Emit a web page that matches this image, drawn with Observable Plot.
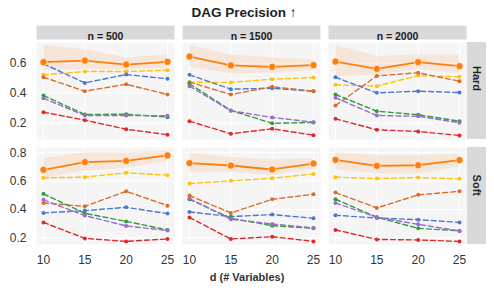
<!DOCTYPE html>
<html>
<head>
<meta charset="utf-8">
<script src="https://cdn.jsdelivr.net/npm/d3@7"></script>
<script src="https://cdn.jsdelivr.net/npm/@observablehq/plot@0.6"></script>
<style>
  html, body { margin: 0; padding: 0; background: #fff; }
  #wrap { position: relative; width: 494px; height: 293px; font-family: "Liberation Sans", Arial, sans-serif; color: #333; }
  #title { position: absolute; left: 0; width: 488px; top: 5px; text-align: center; font-weight: bold; font-size: 13.5px; color: #222; }
  #top { position: absolute; left: 0; top: 0; }
  #bottom { position: absolute; left: 0; top: 141px; }
  #xlabel { position: absolute; left: 0; width: 494px; top: 271px; text-align: center; font-weight: bold; font-size: 11px; color: #333; }
</style>
</head>
<body>
<div id="wrap">
  <div id="top"></div>
  <div id="bottom"></div>
  <div id="title">DAG Precision ↑</div>
  <div id="xlabel">d (# Variables)</div>
</div>
<script>
// ---------- data ----------
const dValues = [10, 15, 20, 25];
const sampleSizes = [500, 1500, 2000];
const regimes = ["Hard", "Soft"];
const methodNames = ["Method A", "Method B", "Method C", "Method D", "Method E", "Method F", "Method G"];
const methodColors = ["#ff7f0e", "#ffc20e", "#4a78d0", "#db6d28", "#2f9e3a", "#9a6ccf", "#dd2a2e"];

// values per sample size (500, 1500, 2000), each over d = 10, 15, 20, 25
const hardA = [[0.607, 0.618, 0.591, 0.609], [0.645, 0.585, 0.576, 0.587], [0.611, 0.562, 0.607, 0.580]];
const hardB = [[0.522, 0.544, 0.544, 0.553], [0.473, 0.471, 0.493, 0.504], [0.455, 0.446, 0.517, 0.509]];
const hardC = [[0.596, 0.468, 0.524, 0.495], [0.522, 0.426, 0.432, 0.412], [0.506, 0.401, 0.412, 0.403]];
const hardD = [[0.506, 0.412, 0.459, 0.390], [0.473, 0.390, 0.442, 0.412], [0.316, 0.515, 0.536, 0.479]];
const hardE = [[0.383, 0.256, 0.258, 0.238], [0.462, 0.283, 0.197, 0.202], [0.390, 0.278, 0.254, 0.211]];
const hardF = [[0.365, 0.249, 0.249, 0.247], [0.446, 0.281, 0.236, 0.204], [0.368, 0.249, 0.244, 0.200]];
const hardG = [[0.271, 0.218, 0.157, 0.120], [0.211, 0.126, 0.160, 0.117], [0.227, 0.153, 0.142, 0.115]];
const hardBandLo = [[0.55, 0.56, 0.555, 0.565], [0.575, 0.53, 0.535, 0.55], [0.51, 0.52, 0.56, 0.53]];
const hardBandHi = [[0.72, 0.69, 0.635, 0.655], [0.72, 0.655, 0.635, 0.625], [0.72, 0.645, 0.655, 0.655]];

const softA = [[0.680, 0.734, 0.743, 0.781], [0.727, 0.710, 0.682, 0.724], [0.750, 0.708, 0.712, 0.748]];
const softB = [[0.623, 0.628, 0.659, 0.642], [0.583, 0.602, 0.620, 0.651], [0.628, 0.618, 0.625, 0.616]];
const softC = [[0.376, 0.392, 0.415, 0.371], [0.383, 0.350, 0.364, 0.338], [0.359, 0.340, 0.328, 0.309]];
const softD = [[0.446, 0.422, 0.528, 0.427], [0.498, 0.376, 0.472, 0.507], [0.519, 0.411, 0.503, 0.528]];
const softE = [[0.510, 0.373, 0.316, 0.256], [0.472, 0.338, 0.286, 0.267], [0.472, 0.345, 0.267, 0.249]];
const softF = [[0.468, 0.357, 0.284, 0.251], [0.477, 0.331, 0.298, 0.270], [0.446, 0.345, 0.295, 0.249]];
const softG = [[0.309, 0.196, 0.175, 0.192], [0.343, 0.192, 0.208, 0.175], [0.256, 0.189, 0.185, 0.175]];
const softBandLo = [[0.62, 0.67, 0.69, 0.74], [0.66, 0.665, 0.64, 0.68], [0.68, 0.65, 0.65, 0.70]];
const softBandHi = [[0.76, 0.80, 0.80, 0.81], [0.80, 0.765, 0.75, 0.76], [0.80, 0.78, 0.78, 0.79]];

const hardTicks = [0.2, 0.4, 0.6];
const softTicks = [0.2, 0.4, 0.6, 0.8];

// ---------- helpers ----------
function toRows(seriesList) {
  const rows = [];
  seriesList.forEach((s, mi) => {
    s.forEach((vals, ni) => {
      vals.forEach((v, di) => rows.push({method: methodNames[mi], n: sampleSizes[ni], d: dValues[di], value: v}));
    });
  });
  return rows;
}
function toBand(lo, hi) {
  const rows = [];
  lo.forEach((vals, ni) => vals.forEach((v, di) => rows.push({n: sampleSizes[ni], d: dValues[di], lo: v, hi: hi[ni][di]})));
  return rows;
}

const W = 494, ML = 36, MR = 28, PANEL_H = 97;
const panelW = (W - ML - MR) / (3 - 0.055) * (1 - 0.055);

function makeRow({regime, series, band, yDomain, yTicks, top, height, marginTop, marginBottom}) {
  const rows = toRows(series);
  const bandRows = toBand(band[0], band[1]);
  const main = rows.filter(r => r.method === methodNames[0]);
  const others = rows.filter(r => r.method !== methodNames[0]);
  const marks = [
    Plot.frame({fill: "#f5f5f5", stroke: null}),
    Plot.ruleY(yTicks, {stroke: "#ffffff", strokeWidth: 1}),
    Plot.ruleX(dValues, {stroke: "#ffffff", strokeWidth: 1}),
    Plot.areaY(bandRows, {x: "d", y1: "lo", y2: "hi", fx: "n", fill: methodColors[0], fillOpacity: 0.12}),
    Plot.line(others, {x: "d", y: "value", z: "method", fx: "n", stroke: "method", strokeWidth: 1.4, strokeDasharray: "5,3"}),
    Plot.dot(others, {x: "d", y: "value", fx: "n", fill: "method", r: 2, stroke: null}),
    Plot.line(main, {x: "d", y: "value", fx: "n", stroke: "method", strokeWidth: 1.8}),
    Plot.dot(main, {x: "d", y: "value", fx: "n", fill: "method", r: 3.6, stroke: "#fff", strokeWidth: 0.6}),
    // right strip with the regime label
    Plot.rect([sampleSizes[2]], {fx: d => d, fill: "#d9d9d9", insetLeft: panelW + 1, insetRight: -20}),
    Plot.text([sampleSizes[2]], {fx: d => d, text: () => regime, frameAnchor: "right", dx: 10.5, rotate: 90, fontWeight: "bold", fontSize: 11, fill: "#222"})
  ];
  if (top) {
    marks.push(
      Plot.frame({fill: "#d9d9d9", stroke: null, insetTop: -17, insetBottom: PANEL_H + 3}),
      Plot.text(sampleSizes, {fx: d => d, text: d => `n = ${d}`, frameAnchor: "top", dy: -10, fontWeight: "bold", fontSize: 10.5, fill: "#222"})
    );
  }
  return Plot.plot({
    width: W,
    height,
    marginLeft: ML,
    marginRight: MR,
    marginTop,
    marginBottom,
    style: {fontFamily: "'Liberation Sans', Arial, sans-serif", fontSize: "12px", color: "#333", background: "transparent", overflow: "visible"},
    fx: {domain: sampleSizes, paddingInner: 0.055, paddingOuter: 0, axis: null, label: null},
    x: {domain: [10, 25], inset: 7, ticks: dValues, tickSize: 0, tickPadding: 11, tickFormat: d => String(d), label: null, axis: top ? null : "bottom"},
    y: {domain: yDomain, ticks: yTicks, tickSize: 0, tickPadding: 10, tickFormat: d => d.toFixed(1), label: null},
    color: {domain: methodNames, range: methodColors},
    marks
  });
}

document.getElementById("top").append(makeRow({
  regime: regimes[0],
  series: [hardA, hardB, hardC, hardD, hardE, hardF, hardG],
  band: [hardBandLo, hardBandHi],
  yDomain: [0.088, 0.739], yTicks: hardTicks, top: true,
  height: 141, marginTop: 42, marginBottom: 2
}));
document.getElementById("bottom").append(makeRow({
  regime: regimes[1],
  series: [softA, softB, softC, softD, softE, softF, softG],
  band: [softBandLo, softBandHi],
  yDomain: [0.153, 0.837], yTicks: softTicks, top: false,
  height: 152, marginTop: 6, marginBottom: 49
}));
</script>
</body>
</html>
